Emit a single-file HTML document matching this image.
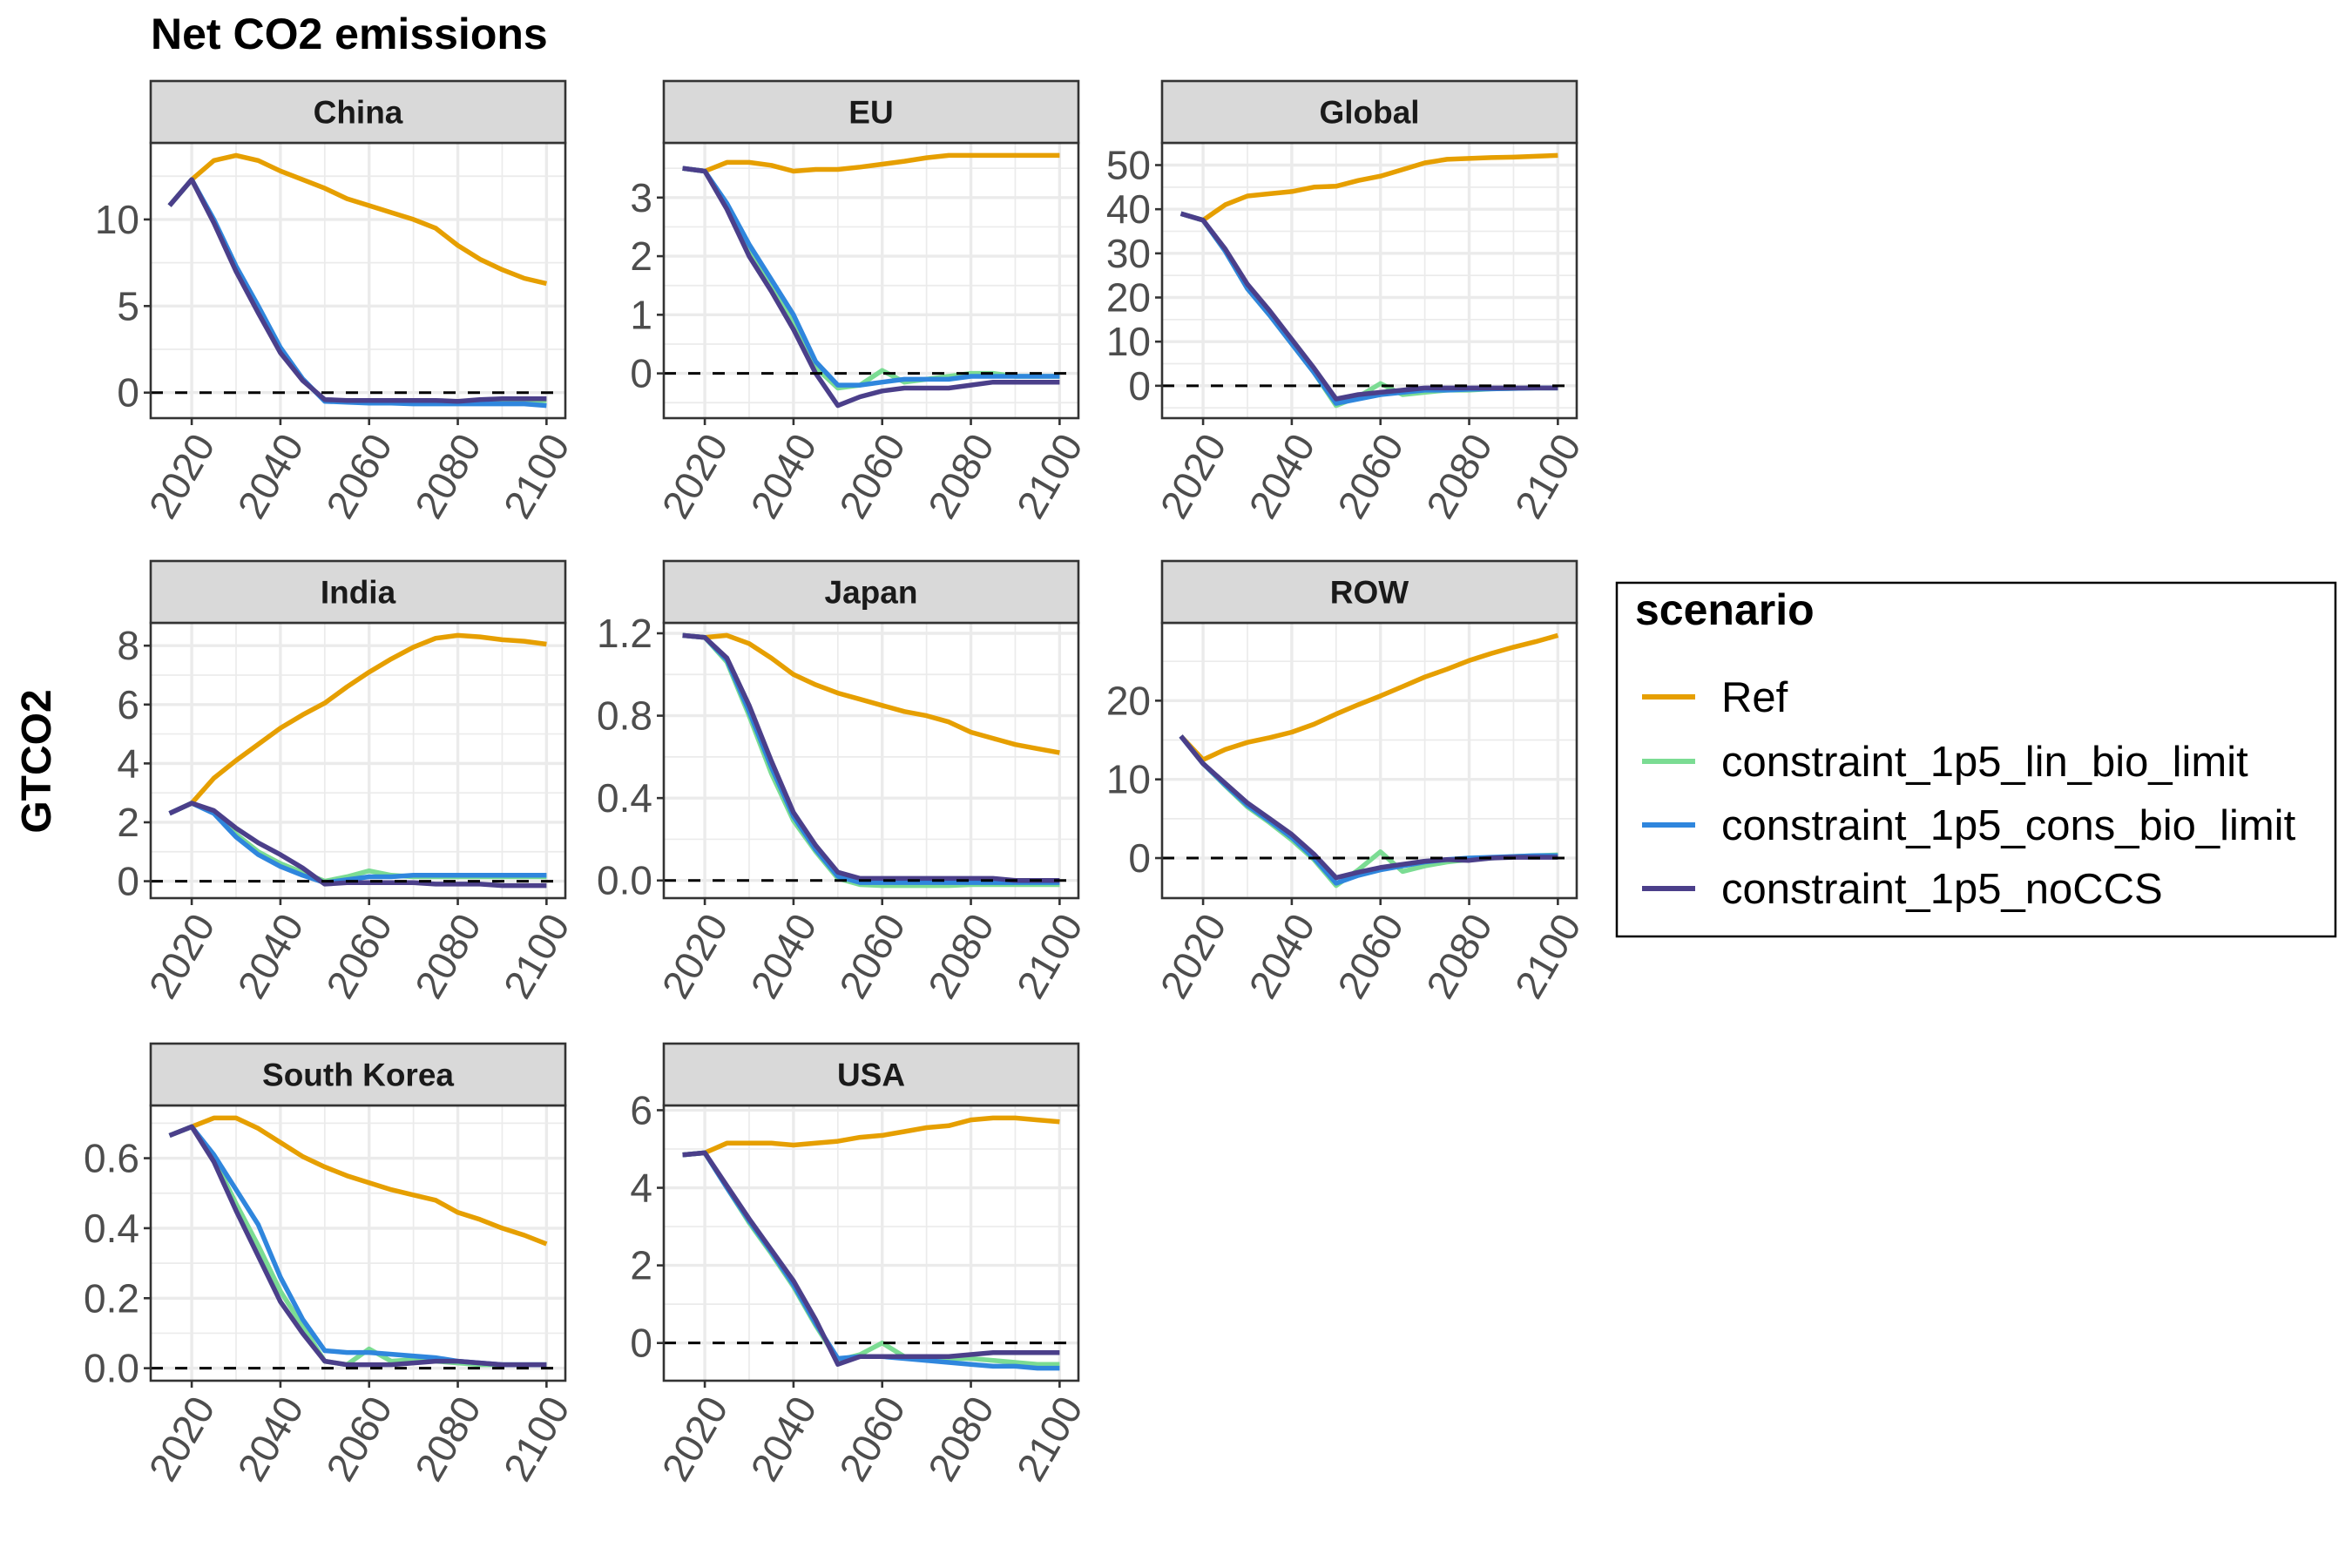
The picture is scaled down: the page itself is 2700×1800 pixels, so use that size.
<!DOCTYPE html>
<html><head><meta charset="utf-8"><style>
html,body{margin:0;padding:0;background:#fff;}
svg{display:block;font-family:"Liberation Sans",Arial,sans-serif;}
</style></head><body>
<svg id="chart" width="2700" height="1800" viewBox="0 0 2700 1800" xmlns="http://www.w3.org/2000/svg">
<rect width="2700" height="1800" fill="#fff"/>
<text x="173" y="56" font-size="50" font-weight="bold" fill="#000">Net CO2 emissions</text>
<text transform="translate(58,874) rotate(-90)" text-anchor="middle" font-size="48" font-weight="bold" fill="#000">GTCO2</text>
<g id="panels"></g>
<g transform="translate(-10,-3)">
<rect x="1866" y="672" width="825" height="406" fill="#fff" stroke="#000" stroke-width="2.5"/>
<text x="1887" y="720" font-size="50" font-weight="bold">scenario</text>
<g><line x1="1895" y1="803" x2="1956" y2="803" stroke="#E69F00" stroke-width="6"/><text x="1986" y="820" font-size="49">Ref</text></g>
<g><line x1="1895" y1="877" x2="1956" y2="877" stroke="#7BDC93" stroke-width="6"/><text x="1986" y="894" font-size="49">constraint_1p5_lin_bio_limit</text></g>
<g><line x1="1895" y1="950" x2="1956" y2="950" stroke="#2F86DD" stroke-width="6"/><text x="1986" y="967" font-size="49">constraint_1p5_cons_bio_limit</text></g>
<g><line x1="1895" y1="1023" x2="1956" y2="1023" stroke="#4B3F8A" stroke-width="6"/><text x="1986" y="1040" font-size="49">constraint_1p5_noCCS</text></g>
</g>
</svg>
<script>
const years=[2015,2020,2025,2030,2035,2040,2045,2050,2055,2060,2065,2070,2075,2080,2085,2090,2095,2100];
const xTicks=[2020,2040,2060,2080,2100];
const regions=["China","EU","Global","India","Japan","ROW","South Korea","USA"];
const scenarios=["Ref","constraint_1p5_lin_bio_limit","constraint_1p5_cons_bio_limit","constraint_1p5_noCCS"];
const colors=["#E69F00","#7BDC93","#2F86DD","#4B3F8A"];
const chinaRef=[10.8,12.3,13.4,13.7,13.4,12.8,12.3,11.8,11.2,10.8,10.4,10.0,9.5,8.5,7.7,7.1,6.6,6.3];
const chinaLin=[10.8,12.3,9.9,7.1,4.8,2.4,0.75,-0.45,-0.5,-0.5,-0.5,-0.5,-0.5,-0.55,-0.45,-0.45,-0.45,-0.45];
const chinaCons=[10.8,12.3,10.0,7.3,5.0,2.6,0.8,-0.5,-0.55,-0.6,-0.6,-0.65,-0.65,-0.65,-0.65,-0.65,-0.65,-0.75];
const chinaNoccs=[10.8,12.3,9.8,7.0,4.6,2.3,0.7,-0.4,-0.45,-0.45,-0.45,-0.45,-0.45,-0.5,-0.4,-0.35,-0.35,-0.35];
const euRef=[3.5,3.45,3.6,3.6,3.55,3.45,3.48,3.48,3.52,3.57,3.62,3.68,3.72,3.72,3.72,3.72,3.72,3.72];
const euLin=[3.5,3.45,2.85,2.1,1.5,0.9,0.1,-0.25,-0.2,0.05,-0.15,-0.1,-0.05,0,0,-0.05,-0.05,-0.05];
const euCons=[3.5,3.45,2.9,2.2,1.6,1.0,0.2,-0.2,-0.2,-0.15,-0.1,-0.1,-0.1,-0.05,-0.05,-0.05,-0.05,-0.05];
const euNoccs=[3.5,3.45,2.8,2.0,1.4,0.75,0.0,-0.55,-0.4,-0.3,-0.25,-0.25,-0.25,-0.2,-0.15,-0.15,-0.15,-0.15];
const globalRef=[39,37.5,41,43,43.5,44,45,45.2,46.5,47.5,49,50.5,51.3,51.5,51.7,51.8,52,52.2];
const globalLin=[39,37.5,30.5,22,16,9.5,3,-4.5,-2.5,0.5,-2,-1.5,-1,-1,-0.7,-0.6,-0.5,-0.5];
const globalCons=[39,37.5,30.5,22,16,9.5,3,-4,-3,-2,-1.5,-1,-1,-0.8,-0.7,-0.6,-0.5,-0.5];
const globalNoccs=[39,37.5,31,23,17,10.5,4,-3,-2,-1.5,-1,-0.5,-0.5,-0.5,-0.5,-0.5,-0.5,-0.5];
const indiaRef=[2.3,2.65,3.5,4.1,4.65,5.2,5.65,6.05,6.6,7.1,7.55,7.95,8.25,8.35,8.3,8.2,8.15,8.05];
const indiaLin=[2.3,2.65,2.35,1.6,1.0,0.6,0.3,0.0,0.15,0.35,0.2,0.15,0.15,0.15,0.15,0.15,0.15,0.15];
const indiaCons=[2.3,2.65,2.3,1.5,0.9,0.5,0.2,-0.05,0.05,0.15,0.15,0.2,0.2,0.2,0.2,0.2,0.2,0.2];
const indiaNoccs=[2.3,2.65,2.4,1.8,1.3,0.9,0.45,-0.1,-0.05,-0.05,-0.05,-0.05,-0.1,-0.1,-0.1,-0.15,-0.15,-0.15];
const japanRef=[1.19,1.18,1.19,1.15,1.08,1.0,0.95,0.91,0.88,0.85,0.82,0.8,0.77,0.72,0.69,0.66,0.64,0.62];
const japanLin=[1.19,1.18,1.06,0.8,0.52,0.29,0.14,0.01,-0.02,-0.025,-0.025,-0.025,-0.025,-0.02,-0.02,-0.02,-0.02,-0.02];
const japanCons=[1.19,1.18,1.07,0.82,0.55,0.31,0.15,0.02,-0.01,-0.01,-0.01,-0.01,-0.01,-0.01,-0.01,-0.01,-0.01,-0.01];
const japanNoccs=[1.19,1.18,1.08,0.85,0.58,0.33,0.17,0.04,0.01,0.01,0.01,0.01,0.01,0.01,0.01,0.0,0.0,0.0];
const rowRef=[15.5,12.5,13.8,14.7,15.3,16,17,18.3,19.5,20.6,21.8,23,24,25.1,26,26.8,27.5,28.3];
const rowLin=[15.5,12,9.2,6.5,4.5,2.3,-0.2,-3.5,-1.5,0.8,-1.7,-1,-0.5,-0.2,0,0.2,0.3,0.4];
const rowCons=[15.5,12,9.3,6.7,4.7,2.6,0,-3.2,-2.2,-1.5,-1,-0.5,-0.2,0,0.1,0.2,0.3,0.3];
const rowNoccs=[15.5,12,9.5,7,5,3,0.5,-2.5,-1.8,-1.2,-0.8,-0.4,-0.2,-0.3,0,0.1,0.1,0.1];
const skRef=[0.665,0.69,0.715,0.715,0.685,0.645,0.605,0.575,0.55,0.53,0.51,0.495,0.48,0.445,0.425,0.40,0.38,0.355];
const skLin=[0.665,0.69,0.60,0.47,0.35,0.22,0.12,0.02,0.01,0.055,0.02,0.025,0.02,0.015,0.01,0.01,0.01,0.01];
const skCons=[0.665,0.69,0.61,0.51,0.41,0.26,0.14,0.05,0.045,0.045,0.04,0.035,0.03,0.02,0.015,0.01,0.01,0.01];
const skNoccs=[0.665,0.69,0.59,0.45,0.32,0.19,0.1,0.02,0.01,0.01,0.01,0.015,0.02,0.02,0.015,0.01,0.01,0.01];
const usaRef=[4.85,4.9,5.15,5.15,5.15,5.1,5.15,5.2,5.3,5.35,5.45,5.55,5.6,5.75,5.8,5.8,5.75,5.7];
const usaLin=[4.85,4.9,4.0,3.1,2.3,1.45,0.45,-0.45,-0.3,0.0,-0.35,-0.4,-0.4,-0.4,-0.45,-0.5,-0.55,-0.55];
const usaCons=[4.85,4.9,4.0,3.15,2.35,1.5,0.5,-0.4,-0.35,-0.35,-0.4,-0.45,-0.5,-0.55,-0.6,-0.6,-0.65,-0.65];
const usaNoccs=[4.85,4.9,4.05,3.2,2.4,1.6,0.6,-0.55,-0.35,-0.35,-0.35,-0.35,-0.35,-0.3,-0.25,-0.25,-0.25,-0.25];
const seriesByRegion=[[chinaRef,chinaLin,chinaCons,chinaNoccs],[euRef,euLin,euCons,euNoccs],[globalRef,globalLin,globalCons,globalNoccs],[indiaRef,indiaLin,indiaCons,indiaNoccs],[japanRef,japanLin,japanCons,japanNoccs],[rowRef,rowLin,rowCons,rowNoccs],[skRef,skLin,skCons,skNoccs],[usaRef,usaLin,usaCons,usaNoccs]];
const yTickVals=[[0,5,10],[0,1,2,3],[0,10,20,30,40,50],[0,2,4,6,8],[0,0.4,0.8,1.2],[0,10,20],[0,0.2,0.4,0.6],[0,2,4,6]];
const yTickLabels=[["0","5","10"],["0","1","2","3"],["0","10","20","30","40","50"],["0","2","4","6","8"],["0.0","0.4","0.8","1.2"],["0","10","20"],["0.0","0.2","0.4","0.6"],["0","2","4","6"]];

const NS="http://www.w3.org/2000/svg";
const colX=[173,762,1334], rowY=[164,715,1269], PW=476, PH=316, SH=71;
const root=document.getElementById("panels");
function mk(tag,attrs,parent){const e=document.createElementNS(NS,tag);for(const k in attrs)e.setAttribute(k,attrs[k]);parent.appendChild(e);return e;}
function extent(arrs){let lo=Infinity,hi=-Infinity;arrs.forEach(a=>a.forEach(v=>{lo=Math.min(lo,v);hi=Math.max(hi,v);}));lo=Math.min(lo,0);const p=(hi-lo)*0.05;return [lo-p,hi+p];}
regions.forEach((reg,i)=>{
  const px=colX[i%3], py=rowY[Math.floor(i/3)];
  const g=mk("g",{},root);
  
  
  const [lo,hi]=extent(seriesByRegion[i]);
  const x0=2015-85*0.05, x1=2100+85*0.05;
  const sx=v=>px+(v-x0)/(x1-x0)*PW;
  const sy=v=>py+PH-(v-lo)/(hi-lo)*PH;
  mk("rect",{x:px,y:py,width:PW,height:PH,fill:"#fff"},g);
  const tv=yTickVals[i], step=tv[1]-tv[0];
  for(let k=-1;k<tv.length+1;k++){const v=tv[0]+(k+0.5)*step;if(v>lo&&v<hi)mk("line",{x1:px,x2:px+PW,y1:sy(v),y2:sy(v),stroke:"#ebebeb","stroke-width":1.7},g);}
  [2030,2050,2070,2090].forEach(v=>mk("line",{x1:sx(v),x2:sx(v),y1:py,y2:py+PH,stroke:"#ebebeb","stroke-width":1.7},g));
  tv.forEach(v=>mk("line",{x1:px,x2:px+PW,y1:sy(v),y2:sy(v),stroke:"#ebebeb","stroke-width":3.4},g));
  xTicks.forEach(v=>mk("line",{x1:sx(v),x2:sx(v),y1:py,y2:py+PH,stroke:"#ebebeb","stroke-width":3.4},g));
  seriesByRegion[i].forEach((arr,s)=>{
    const pts=arr.map((v,j)=>sx(years[j]).toFixed(1)+","+sy(v).toFixed(1)).join(" ");
    const pl=mk("polyline",{points:pts,fill:"none",stroke:colors[s],"stroke-width":5.5,"stroke-linejoin":"round"},g);
    
    
  });
  const zl=mk("line",{x1:px,x2:px+PW,y1:sy(0),y2:sy(0),stroke:"#000","stroke-width":3,"stroke-dasharray":"14,14"},g);
  
  
  mk("rect",{x:px,y:py,width:PW,height:PH,fill:"none",stroke:"#333","stroke-width":2.6},g);
  const st=mk("rect",{x:px,y:py-SH,width:PW,height:SH,fill:"#d9d9d9",stroke:"#333","stroke-width":2.6},g);
  
  
  const stt=mk("text",{x:px+PW/2,y:py-SH/2+13,"text-anchor":"middle","font-size":37,"font-weight":"bold",fill:"#1a1a1a"},g);
  stt.textContent=reg;
  
  
  tv.forEach((v,k)=>{
    mk("line",{x1:px-8,x2:px,y1:sy(v),y2:sy(v),stroke:"#333","stroke-width":2.6},g);
    const t=mk("text",{x:px-13,y:sy(v)+16,"text-anchor":"end","font-size":46,fill:"#4d4d4d"},g);
    t.textContent=yTickLabels[i][k];
    
    
  });
  xTicks.forEach(v=>{
    mk("line",{x1:sx(v),x2:sx(v),y1:py+PH,y2:py+PH+8,stroke:"#333","stroke-width":2.6},g);
    const ax=sx(v)+14, ay=py+PH+22;
    const t=mk("text",{x:0,y:0,"text-anchor":"end","font-size":46,fill:"#4d4d4d",transform:`translate(${ax},${ay}) rotate(-60) translate(0,16)`},g);
    t.textContent=v;
    
    
  });
});
</script>
</body></html>
